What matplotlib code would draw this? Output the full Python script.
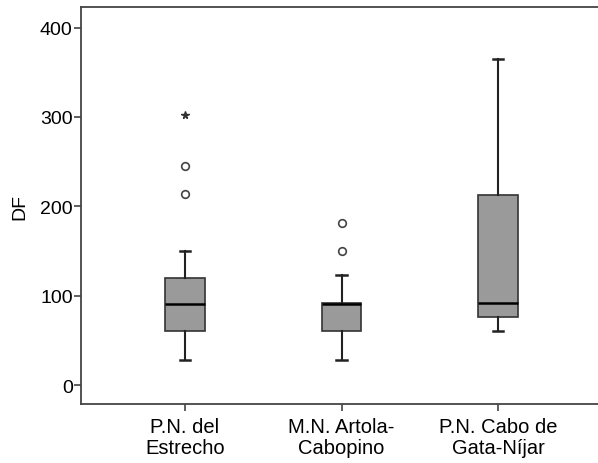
import matplotlib
matplotlib.use("Agg")
import matplotlib.pyplot as plt

plt.rcParams['font.family'] = ['Liberation Sans', 'DejaVu Sans']

# data
sites = ["P.N. del\nEstrecho", "M.N. Artola-\nCabopino", "P.N. Cabo de\nGata-Níjar"]
whislo = [28, 28, 61]
q1 = [61, 61, 76]
med = [91, 91, 92]
q3 = [120, 92, 213]
whishi = [150, 123, 365]
outliers = [[214, 245], [150, 181], []]
extremes = [[302], [], []]

fig = plt.figure(figsize=(5.98, 4.64), dpi=100)
ax = fig.add_axes([81/598, 58.7/464, 521/598, 397.3/464])

stats = []
for i in range(len(sites)):
    stats.append(dict(whislo=whislo[i], q1=q1[i], med=med[i], q3=q3[i],
                      whishi=whishi[i], fliers=outliers[i]))

pos = list(range(len(sites)))
ax.bxp(stats, positions=pos, widths=0.25, patch_artist=True, capwidths=0.065,
       boxprops=dict(facecolor="#9a9a9a", edgecolor="#333333", linewidth=1.2),
       medianprops=dict(color="black", linewidth=1.8),
       whiskerprops=dict(color="#222222", linewidth=1.5),
       capprops=dict(color="#222222", linewidth=1.8),
       flierprops=dict(marker="o", markersize=5.5, markerfacecolor="white",
                       markeredgecolor="#444444", markeredgewidth=1.2))

for i, ex in enumerate(extremes):
    if ex:
        ax.plot([pos[i]] * len(ex), ex, linestyle="none", marker="*",
                markersize=5.5, color="#333333")

ax.set_xlim(-0.664, 2.664)
ax.set_ylim(-21.5, 423)
ax.set_yticks([0, 100, 200, 300, 400])
ax.set_xticks(pos)
ax.set_xticklabels(sites, fontsize=14.5, linespacing=1.15)
ax.tick_params(axis="y", labelsize=14, length=5, width=1.2, color="#444444", pad=1)
ax.tick_params(axis="x", length=5, width=1.2, color="#444444", pad=4)
ax.set_ylabel("DF", fontsize=14, labelpad=8)

for s in ax.spines.values():
    s.set_color("#444444")
    s.set_linewidth(1.3)
ax.spines["right"].set_visible(False)

fig.savefig("out.png", dpi=100)
